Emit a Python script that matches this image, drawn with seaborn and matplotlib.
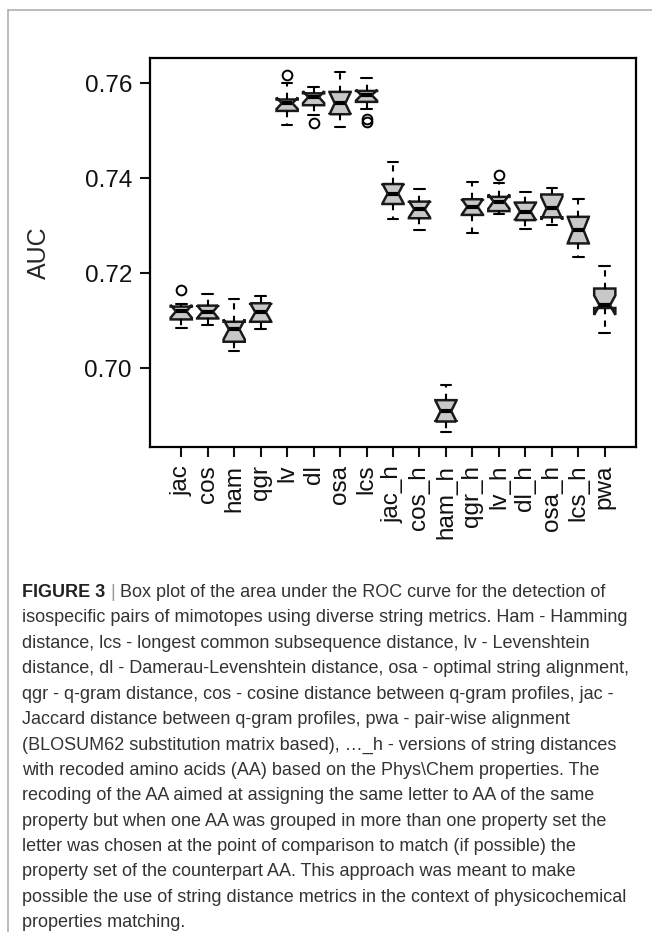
import numpy as np
import matplotlib
matplotlib.use("Agg")
import matplotlib.pyplot as plt
from matplotlib.lines import Line2D
import seaborn as sns

# values (AUC per string metric)
names = ["jac", "cos", "ham", "qgr", "lv", "dl", "osa", "lcs",
         "jac_h", "cos_h", "ham_h", "qgr_h", "lv_h", "dl_h", "osa_h", "lcs_h", "pwa"]
whislo = [0.7085, 0.7091, 0.7037, 0.7083, 0.7512, 0.7533, 0.7509, 0.7547,
          0.7314, 0.7291, 0.6867, 0.7284, 0.7324, 0.7293, 0.7302, 0.7234, 0.7074]
q1 = [0.7103, 0.7105, 0.7056, 0.7098, 0.7542, 0.7554, 0.7535, 0.7561,
      0.7346, 0.7316, 0.6888, 0.7323, 0.7331, 0.7312, 0.7318, 0.7263, 0.7127]
med = [0.7120, 0.7119, 0.7082, 0.7118, 0.7558, 0.7571, 0.7558, 0.7575,
       0.7368, 0.7335, 0.6910, 0.7340, 0.7351, 0.7330, 0.7337, 0.7291, 0.7133]
q3 = [0.7130, 0.7132, 0.7098, 0.7137, 0.7566, 0.7579, 0.7582, 0.7584,
      0.7388, 0.7351, 0.6933, 0.7356, 0.7361, 0.7349, 0.7366, 0.7319, 0.7168]
whishi = [0.7135, 0.7156, 0.7147, 0.7153, 0.7601, 0.7592, 0.7624, 0.7611,
          0.7435, 0.7378, 0.6965, 0.7393, 0.7390, 0.7372, 0.7380, 0.7356, 0.7215]
outliers = [[0.7165], [], [], [], [0.7617], [0.7517], [], [0.7525, 0.7518],
            [], [], [], [], [0.7407], [], [], [], []]
n_folds = 10  # notch = median +/- 1.58*IQR/sqrt(n), as in R

caption = [
    "isospecific pairs of mimotopes using diverse string metrics. Ham - Hamming",
    "distance, lcs - longest common subsequence distance, lv - Levenshtein",
    "distance, dl - Damerau-Levenshtein distance, osa - optimal string alignment,",
    "qgr - q-gram distance, cos - cosine distance between q-gram profiles, jac -",
    "Jaccard distance between q-gram profiles, pwa - pair-wise alignment",
    "(BLOSUM62 substitution matrix based), \u2026_h - versions of string distances",
    "with recoded amino acids (AA) based on the Phys\\Chem properties. The",
    "recoding of the AA aimed at assigning the same letter to AA of the same",
    "property but when one AA was grouped in more than one property set the",
    "letter was chosen at the point of comparison to match (if possible) the",
    "property set of the counterpart AA. This approach was meant to make",
    "possible the use of string distance metrics in the context of physicochemical",
    "properties matching.",
]

sns.set_style("ticks")
plt.rcParams["font.family"] = ["Liberation Sans", "DejaVu Sans"]

fig = plt.figure(figsize=(6.52, 9.32), dpi=100)
ax = fig.add_axes([150 / 652, 1 - 446.7 / 932, 486 / 652, (446.7 - 57.7) / 932])

stats = []
for i in range(len(names)):
    half = 1.58 * (q3[i] - q1[i]) / np.sqrt(n_folds)
    stats.append(dict(label=names[i], whislo=whislo[i], q1=q1[i], med=med[i],
                      q3=q3[i], whishi=whishi[i], fliers=outliers[i],
                      cilo=med[i] - half, cihi=med[i] + half))

ax.bxp(stats, positions=range(len(names)), widths=0.8, capwidths=0.4,
       shownotches=True, patch_artist=True, showfliers=True,
       boxprops=dict(facecolor="#c8c8c8", edgecolor="#1a1a1a", linewidth=1.8),
       medianprops=dict(color="black", linewidth=3, solid_capstyle="butt"),
       whiskerprops=dict(color="black", linewidth=1.5, linestyle=(0, (3, 3))),
       capprops=dict(color="black", linewidth=1.5),
       flierprops=dict(marker="o", markerfacecolor="none", markeredgecolor="black",
                       markersize=7, markeredgewidth=1.4))

ax.set_xlim(-1.18, len(names) - 1 + 1.18)
ax.set_ylim(0.6835, 0.7654)
ax.set_yticks([0.70, 0.72, 0.74, 0.76])
ax.set_yticklabels(["0.70", "0.72", "0.74", "0.76"])
ax.set_xticks(range(len(names)))
ax.set_xticklabels(names, rotation=90)
ax.tick_params(axis="both", labelsize=17.5, length=7, width=1.5, pad=6, colors="#111111")
ax.set_ylabel("AUC", fontsize=18, labelpad=24)
for sp in ax.spines.values():
    sp.set_visible(True)
    sp.set_linewidth(1.6)
    sp.set_color("black")

# frame lines of the page
fig.add_artist(Line2D([8 / 652, 1], [1 - 10 / 932] * 2, color="#b0b0b0", lw=1.2))
fig.add_artist(Line2D([8 / 652] * 2, [1 - 10 / 932, 0], color="#b0b0b0", lw=1.2))

# caption
fs = 13.0
y0 = 1 - 597 / 932
step = 25.4 / 932
t1 = fig.text(22 / 652, y0, "FIGURE 3", fontsize=fs, fontweight="bold", color="#222222")
fig.canvas.draw()
r = fig.canvas.get_renderer()
bb = t1.get_window_extent(r)
t2 = fig.text((bb.x1 + 5) / 652, y0, "|", fontsize=fs, color="#999999")
bb2 = t2.get_window_extent(r)
fig.text((bb2.x1 + 5) / 652, y0,
         "Box plot of the area under the ROC curve for the detection of",
         fontsize=fs, color="#333333")
for k, line in enumerate(caption):
    fig.text(22 / 652, y0 - (k + 1) * step, line, fontsize=fs, color="#333333")

fig.savefig("out.png", dpi=100)
